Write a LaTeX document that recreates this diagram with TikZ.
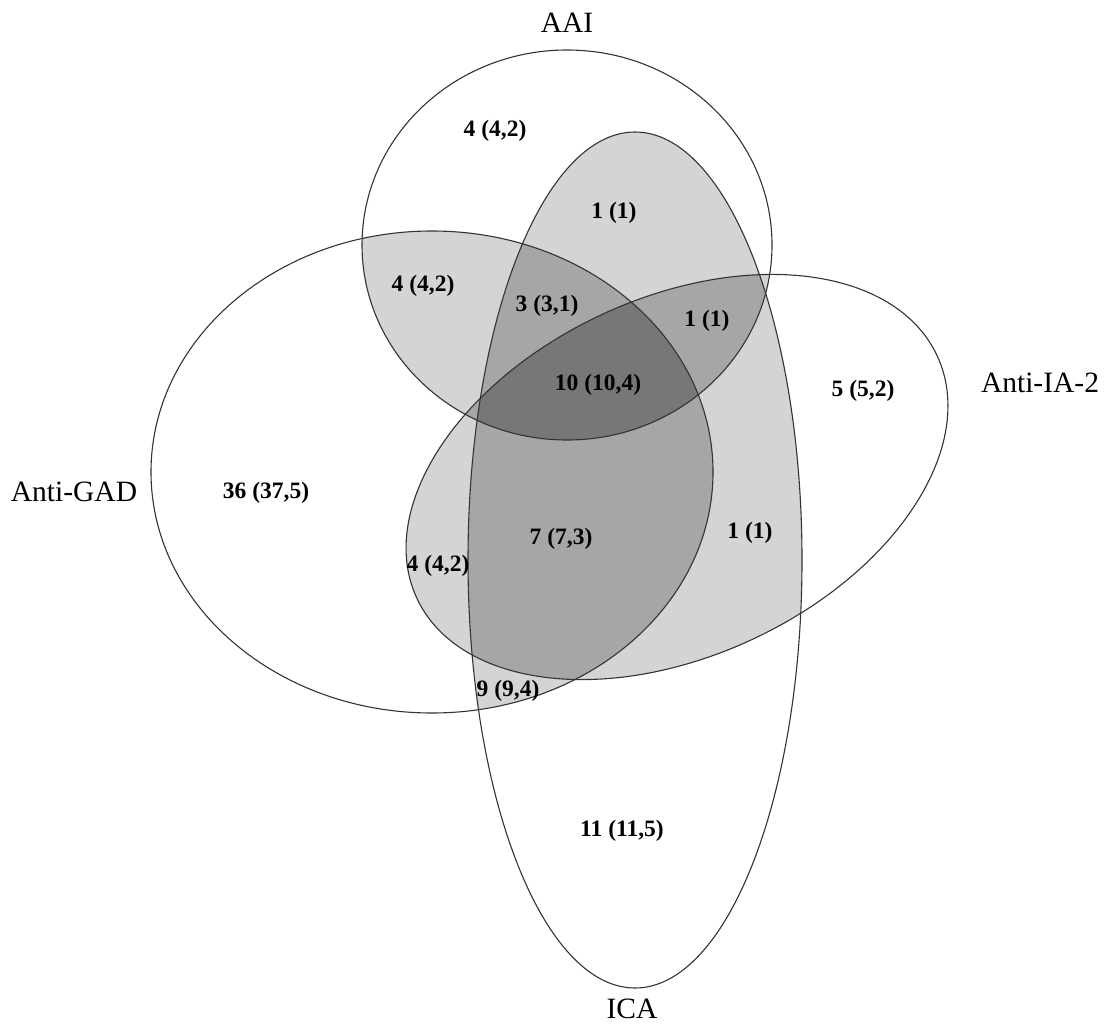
\documentclass[tikz,border=0pt]{standalone}
\usepackage{fontspec}
\setmainfont{Liberation Serif}
\definecolor{ltgrey}{RGB}{212,212,212}
\definecolor{mdgrey}{RGB}{166,166,166}
\definecolor{dkgrey}{RGB}{119,119,119}
\def\vAAI{(567,245) ellipse [x radius=205, y radius=195]}
\def\vGAD{(432,472) ellipse [x radius=281, y radius=241]}
\def\vICA{(635,560) ellipse [x radius=167, y radius=428]}
\def\vIAT{(677,477) ellipse [x radius=287, y radius=179]}
\tikzset{
  iarot/.style={rotate around={25:(677,477)}},
  ltfill/.style={fill=ltgrey},
  mdfill/.style={fill=mdgrey},
  dkfill/.style={fill=dkgrey},
  outline/.style={draw=black!80, line width=1.1pt},
  setname/.style={inner sep=0pt, font=\fontsize{29.5}{34}\selectfont},
  count/.style={inner sep=0pt, font=\fontsize{23.5}{28}\selectfont\bfseries}
}
\begin{document}
\begin{tikzpicture}[x=1pt,y=-1pt]
\useasboundingbox (0,0) rectangle (1107,1024);
\fill[white] (0,0) rectangle (1107,1024);
% pairwise intersections
\begin{scope}\clip \vAAI; \fill[ltfill] \vGAD; \fill[ltfill] \vICA; \fill[ltfill,iarot] \vIAT; \end{scope}
\begin{scope}\clip \vGAD; \fill[ltfill] \vICA; \fill[ltfill,iarot] \vIAT; \end{scope}
\begin{scope}\clip \vICA; \fill[ltfill,iarot] \vIAT; \end{scope}
% triple intersections
\begin{scope}\clip \vAAI; \clip \vGAD; \fill[mdfill] \vICA; \fill[mdfill,iarot] \vIAT; \end{scope}
\begin{scope}\clip \vAAI; \clip \vICA; \fill[mdfill,iarot] \vIAT; \end{scope}
\begin{scope}\clip \vGAD; \clip \vICA; \fill[mdfill,iarot] \vIAT; \end{scope}
% quadruple intersection
\begin{scope}\clip \vAAI; \clip \vGAD; \clip \vICA; \fill[dkfill,iarot] \vIAT; \end{scope}
% outlines
\draw[outline] \vAAI;
\draw[outline] \vGAD;
\draw[outline] \vICA;
\draw[outline,iarot] \vIAT;
% set names
\node[setname] (nAAI) at (567,23) {AAI};
\node[setname] (nGAD) at (74,492) {Anti-GAD};
\node[setname] (nIAT) at (1040,383) {Anti-IA-2};
\node[setname] (nICA) at (632,1009) {ICA};
% counts
\node[count] (c1) at (495,131) {4 (4,2)};
\node[count] (c2) at (614,213) {1 (1)};
\node[count] (c3) at (423,286) {4 (4,2)};
\node[count] (c4) at (547,306) {3 (3,1)};
\node[count] (c5) at (707,321) {1 (1)};
\node[count] (c6) at (598,385) {10 (10,4)};
\node[count] (c7) at (863,391) {5 (5,2)};
\node[count] (c8) at (266,493) {36 (37,5)};
\node[count] (c9) at (561,539) {7 (7,3)};
\node[count] (c10) at (750,533) {1 (1)};
\node[count] (c11) at (438,566) {4 (4,2)};
\node[count] (c12) at (508,691) {9 (9,4)};
\node[count] (c13) at (622,831) {11 (11,5)};
\end{tikzpicture}
\end{document}
